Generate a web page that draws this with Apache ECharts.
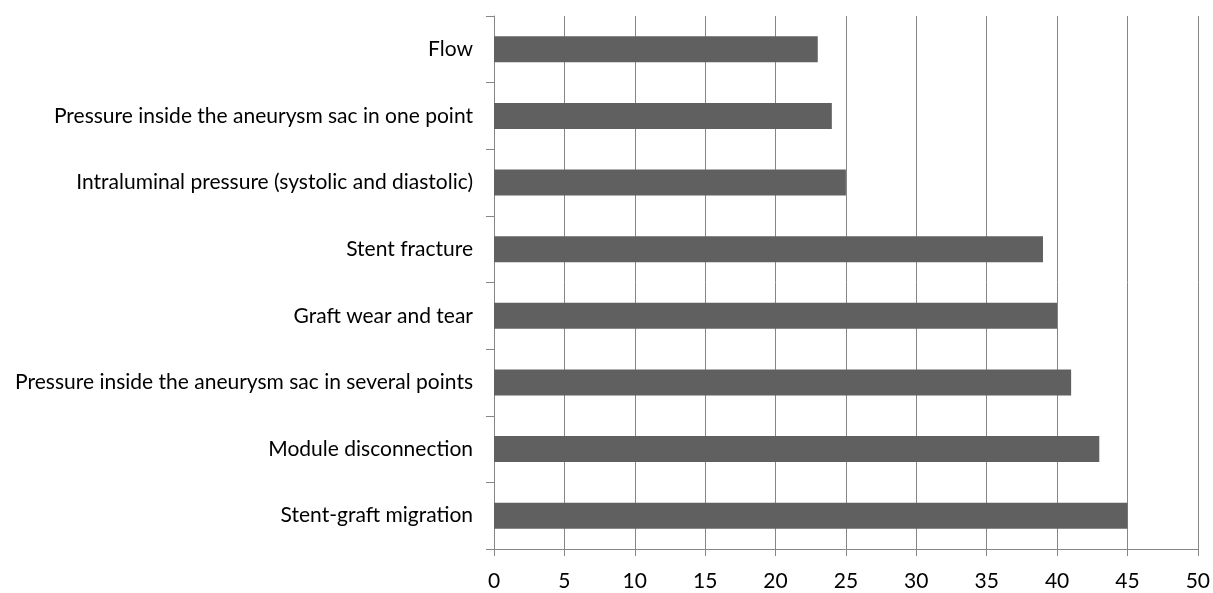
<!DOCTYPE html>
<html>
<head>
<meta charset="utf-8">
<script src="https://cdn.jsdelivr.net/npm/echarts@6/dist/echarts.min.js"></script>
<style>
  html, body { margin: 0; padding: 0; background: #fff; }
  #chart { width: 1213px; height: 593px; }
</style>
</head>
<body>
<div id="chart"></div>
<script>
// Monitoring parameters and their counts
const categories = [
  'Flow',
  'Pressure inside the aneurysm sac in one point',
  'Intraluminal pressure (systolic and diastolic)',
  'Stent fracture',
  'Graft wear and tear',
  'Pressure inside the aneurysm sac in several points',
  'Module disconnection',
  'Stent-graft migration'
];
const values = [23, 24, 25, 39, 40, 41, 43, 45];
const xTicks = { min: 0, max: 50, interval: 5 };

const fontFamily = 'Lato, "Open Sans", sans-serif';
const chart = echarts.init(document.getElementById('chart'));
chart.setOption({
  animation: false,
  grid: { left: 494, right: 15, top: 16, bottom: 44 },
  xAxis: {
    type: 'value',
    min: xTicks.min, max: xTicks.max, interval: xTicks.interval,
    axisLine: { show: true, lineStyle: { color: '#868686', width: 1 } },
    axisTick: { show: true, length: 7, lineStyle: { color: '#868686' } },
    splitLine: { show: true, lineStyle: { color: '#868686', width: 1 } },
    axisLabel: { color: '#000', fontSize: 21, fontFamily: fontFamily, margin: 22 }
  },
  yAxis: {
    type: 'category',
    inverse: true,
    data: categories,
    axisLine: { show: true, lineStyle: { color: '#868686', width: 1 } },
    axisTick: { show: true, length: 8, lineStyle: { color: '#868686' } },
    axisLabel: { color: '#000', fontSize: 21, fontFamily: fontFamily, margin: 21 }
  },
  series: [{
    type: 'bar',
    data: values,
    barWidth: 26,
    itemStyle: { color: '#606060' }
  }]
});
</script>
</body>
</html>
